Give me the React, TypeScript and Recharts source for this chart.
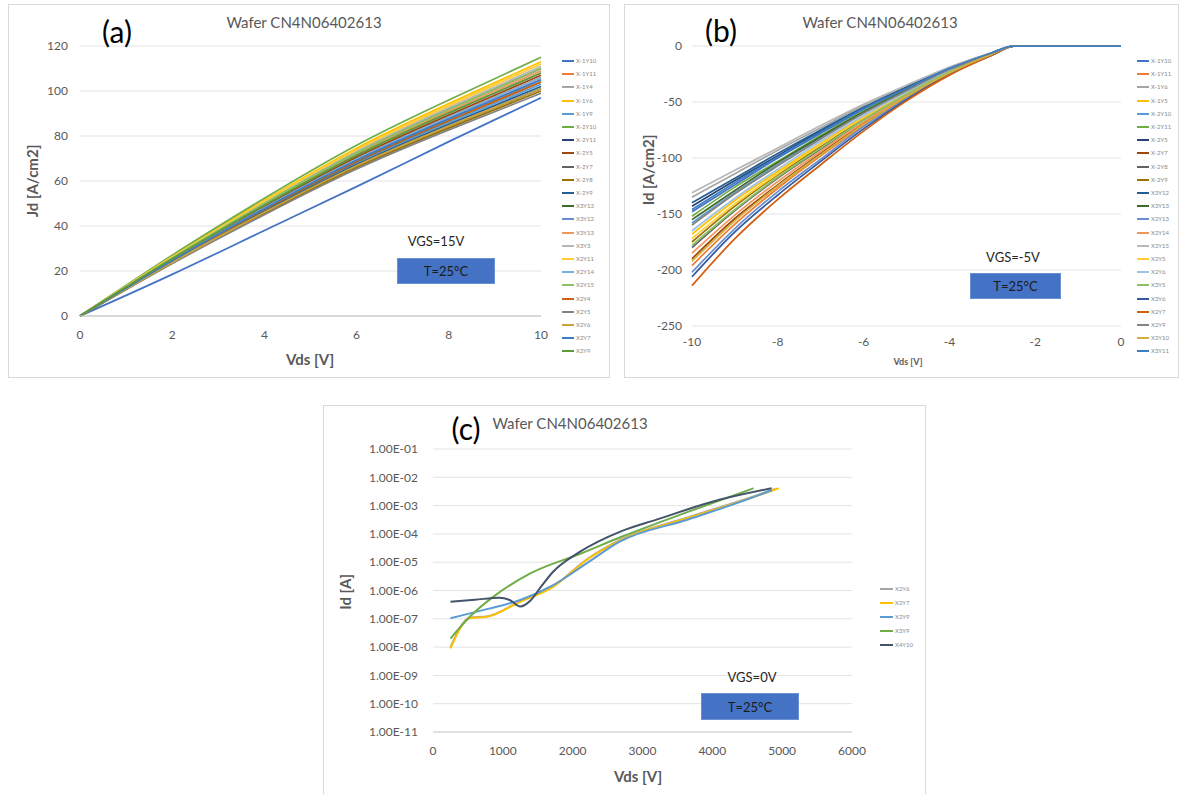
import React from 'react';
import { LineChart, Line, XAxis, YAxis, CartesianGrid } from 'recharts';

const FONT = 'Lato, "Open Sans", "Liberation Sans", sans-serif';
const TICK = { fill: '#595959', fontSize: 12, fontFamily: FONT };
const TITLE = 'Wafer CN4N06402613';

// ---------- Panel (a): Jd vs Vds, VGS = 15 V ----------
const vdsA = [0, 2, 4, 6, 8, 10];
const xTicksA = [0, 2, 4, 6, 8, 10];
const yTicksA = [0, 20, 40, 60, 80, 100, 120];
const namesA = [
  'X-1Y10', 'X-1Y11', 'X-1Y4', 'X-1Y6', 'X-1Y9', 'X-2Y10', 'X-2Y11', 'X-2Y5',
  'X-2Y7', 'X-2Y8', 'X-2Y9', 'X3Y13', 'X3Y12', 'X3Y13', 'X3Y3', 'X2Y11',
  'X2Y14', 'X2Y15', 'X2Y4', 'X2Y5', 'X2Y6', 'X2Y7', 'X2Y9',
];
const colorsA = [
  '#4472C4', '#ED7D31', '#A5A5A5', '#FFC000', '#5B9BD5', '#70AD47', '#264478', '#9E480E',
  '#636363', '#997300', '#255E91', '#43682B', '#698ED0', '#F1975A', '#B7B7B7', '#FFCD33',
  '#7CAFDD', '#8CC168', '#D26012', '#848484', '#CCA43A', '#3C7DC4', '#5E9A3C',
];
const jdA = [
  [0, 18.5, 38.0, 57.5, 77.5, 97.0],
  [0, 24.9, 48.2, 70.0, 88.5, 106.0],
  [0, 25.4, 49.1, 71.3, 90.2, 108.0],
  [0, 26.6, 51.4, 74.6, 94.4, 113.0],
  [0, 24.2, 46.9, 68.0, 86.0, 103.0],
  [0, 27.0, 52.3, 75.9, 96.0, 115.0],
  [0, 23.7, 46.0, 66.7, 84.3, 101.0],
  [0, 25.1, 48.7, 70.6, 89.3, 107.0],
  [0, 25.9, 50.1, 72.6, 91.9, 110.0],
  [0, 23.5, 45.5, 66.0, 83.5, 100.0],
  [0, 24.0, 46.4, 67.3, 85.2, 102.0],
  [0, 24.4, 47.3, 68.6, 86.8, 104.0],
  [0, 24.7, 47.8, 69.3, 87.7, 105.0],
  [0, 25.6, 49.6, 71.9, 91.0, 109.0],
  [0, 26.1, 50.5, 73.3, 92.7, 111.0],
  [0, 26.3, 51.0, 73.9, 93.5, 112.0],
  [0, 24.8, 48.1, 69.8, 88.4, 106.0],
  [0, 25.8, 50.0, 72.5, 91.8, 110.0],
  [0, 24.5, 47.4, 68.7, 86.9, 104.0],
  [0, 23.3, 45.0, 65.3, 82.7, 99.0],
  [0, 23.8, 46.1, 66.8, 84.4, 101.0],
  [0, 24.6, 47.7, 69.2, 87.6, 105.0],
  [0, 25.4, 49.2, 71.4, 90.3, 108.0],
];

// ---------- Panel (b): Id vs Vds, VGS = -5 V ----------
const vdsB = [-10, -9, -8, -7, -6, -5, -4, -3, -2.5, 0];
const xTicksB = [-10, -8, -6, -4, -2, 0];
const yTicksB = [-250, -200, -150, -100, -50, 0];
const namesB = [
  'X-1Y10', 'X-1Y11', 'X-1Y6', 'X-1Y5', 'X-2Y10', 'X-2Y11', 'X-2Y5', 'X-2Y7',
  'X-2Y8', 'X-2Y9', 'X3Y12', 'X3Y13', 'X2Y13', 'X2Y14', 'X2Y15', 'X2Y5',
  'X2Y6', 'X3Y5', 'X3Y6', 'X2Y7', 'X2Y9', 'X2Y10', 'X3Y11',
];
const colorsB = [
  '#4472C4', '#ED7D31', '#A5A5A5', '#FFC000', '#5B9BD5', '#70AD47', '#264478', '#9E480E',
  '#636363', '#997300', '#255E91', '#43682B', '#698ED0', '#F1975A', '#B7B7B7', '#FFCD33',
  '#9DC3E6', '#8CC168', '#335AA1', '#D26012', '#848484', '#D4AE3F', '#3C7DC4',
];
const idB = [
  [-148, -124, -100, -78, -57, -38, -20, -6, 0, 0],
  [-196, -159, -127, -98, -71, -46, -25, -8, 0, 0],
  [-135, -114, -93, -73, -53, -36, -19, -6, 0, 0],
  [-168, -138, -112, -87, -63, -41, -22, -7, 0, 0],
  [-158, -131, -106, -82, -60, -40, -21, -7, 0, 0],
  [-152, -126, -103, -80, -58, -39, -21, -6, 0, 0],
  [-143, -120, -98, -76, -55, -37, -20, -6, 0, 0],
  [-190, -154, -124, -96, -69, -45, -24, -7, 0, 0],
  [-180, -147, -118, -92, -66, -43, -23, -7, 0, 0],
  [-175, -143, -115, -90, -65, -42, -23, -7, 0, 0],
  [-140, -118, -96, -75, -55, -37, -20, -6, 0, 0],
  [-155, -129, -104, -81, -59, -39, -21, -7, 0, 0],
  [-202, -163, -130, -101, -72, -47, -25, -8, 0, 0],
  [-185, -151, -121, -94, -68, -44, -24, -7, 0, 0],
  [-131, -111, -91, -71, -52, -35, -19, -6, 0, 0],
  [-172, -141, -114, -88, -64, -42, -22, -7, 0, 0],
  [-165, -136, -110, -85, -62, -41, -22, -7, 0, 0],
  [-178, -146, -117, -91, -66, -43, -23, -7, 0, 0],
  [-206, -166, -133, -103, -74, -48, -25, -8, 0, 0],
  [-214, -172, -137, -106, -76, -49, -26, -8, 0, 0],
  [-160, -132, -107, -83, -60, -40, -21, -7, 0, 0],
  [-192, -156, -125, -97, -70, -45, -24, -7, 0, 0],
  [-146, -122, -99, -77, -56, -38, -20, -6, 0, 0],
];

// ---------- Panel (c): Id vs Vds, VGS = 0 V (log scale) ----------
const xTicksC = [0, 1000, 2000, 3000, 4000, 5000, 6000];
const yTicksC = [1e-11, 1e-10, 1e-9, 1e-8, 1e-7, 1e-6, 1e-5, 1e-4, 1e-3, 1e-2, 1e-1];

const vdsX2Y6 = [250, 530, 770, 1250, 1720, 2200, 2700, 3630, 4590, 4900];
const idX2Y6 = [1.0e-8, 1.1e-7, 1.2e-7, 4.2e-7, 1.4e-6, 1.25e-5, 6.5e-5, 3.7e-4, 2.1e-3, 3.9e-3];
const vdsX2Y7 = [250, 530, 770, 1250, 1720, 2200, 2700, 3630, 4590, 4950];
const idX2Y7 = [9.0e-9, 1.05e-7, 1.17e-7, 4.0e-7, 1.35e-6, 1.2e-5, 6.2e-5, 3.5e-4, 2.0e-3, 4.1e-3];
const vdsX2Y9 = [250, 770, 1250, 1720, 2200, 2680, 3630, 4590, 4850];
const idX2Y9 = [1.05e-7, 2.2e-7, 4.6e-7, 1.55e-6, 9.1e-6, 5.4e-5, 3.1e-4, 2.0e-3, 3.5e-3];
const vdsX3Y9 = [250, 530, 900, 1400, 2100, 2700, 3600, 4590];
const idX3Y9 = [2.0e-8, 1.2e-7, 7.0e-7, 4.1e-6, 1.95e-5, 7.9e-5, 5.4e-4, 4.1e-3];
const vdsX4Y10 = [250, 600, 950, 1100, 1250, 1400, 1550, 1720, 2100, 2700, 3200, 4100, 4850];
const idX4Y10 = [4.0e-7, 4.7e-7, 5.6e-7, 4.6e-7, 2.7e-7, 4.5e-7, 1.4e-6, 4.6e-6, 2.3e-5, 1.26e-4, 3.2e-4, 1.6e-3, 4.1e-3];

const namesC = ['X2Y6', 'X2Y7', 'X2Y9', 'X3Y9', 'X4Y10'];
const colorsC = ['#A5A5A5', '#FFC000', '#5B9BD5', '#70AD47', '#44546A'];
const seriesC = [
  [vdsX2Y6, idX2Y6],
  [vdsX2Y7, idX2Y7],
  [vdsX2Y9, idX2Y9],
  [vdsX3Y9, idX3Y9],
  [vdsX4Y10, idX4Y10],
];

// ---------- helpers ----------
const toRows = (xs: number[], curves: number[][]) =>
  xs.map((x, i) => {
    const r: Record<string, number> = { x };
    curves.forEach((c, k) => {
      r['s' + k] = c[i];
    });
    return r;
  });

const rowsA = toRows(vdsA, jdA);
const rowsB = toRows(vdsB, idB);
const dataC = seriesC.map(([xs, ys]) => xs.map((x, i) => ({ x, y: ys[i] })));

const fmtSci = (v: number) => {
  const e = Math.round(Math.log10(v));
  return `1.00E${e < 0 ? '-' : '+'}${String(Math.abs(e)).padStart(2, '0')}`;
};

const abs = (left: number, top: number): React.CSSProperties => ({ position: 'absolute', left, top });

function Frame({ left, top, width, height }: { left: number; top: number; width: number; height: number }) {
  return (
    <div
      style={{
        ...abs(left, top),
        width,
        height,
        border: '1px solid #D9D9D9',
        boxSizing: 'border-box',
        background: '#fff',
      }}
    />
  );
}

function Centered({ x, y, size, color, bold, children }: any) {
  return (
    <div
      style={{
        ...abs(x, y),
        transform: 'translate(-50%, -50%)',
        fontFamily: FONT,
        fontSize: size,
        color,
        fontWeight: bold ? 700 : 400,
        whiteSpace: 'nowrap',
        lineHeight: 1,
      }}
    >
      {children}
    </div>
  );
}

function RotLabel({ x, y, size, children }: any) {
  return (
    <div
      style={{
        ...abs(x, y),
        transform: 'translate(-50%, -50%) rotate(-90deg)',
        fontFamily: FONT,
        fontSize: size,
        color: '#595959',
        fontWeight: 700,
        whiteSpace: 'nowrap',
        lineHeight: 1,
      }}
    >
      {children}
    </div>
  );
}

function TempBox({ left, top, width, height }: any) {
  return (
    <div
      style={{
        ...abs(left, top),
        width,
        height,
        background: '#4472C4',
        border: '1px solid #6A8FD3',
        boxSizing: 'border-box',
        display: 'flex',
        alignItems: 'center',
        justifyContent: 'center',
        fontFamily: FONT,
        fontSize: 13,
        color: '#1b1b1b',
      }}
    >
      T=25°C
    </div>
  );
}

function SeriesKey({ left, top, step, names, colors, lineW, size }: any) {
  return (
    <div style={abs(left, top)}>
      {names.map((n: string, i: number) => (
        <div
          key={i}
          style={{
            position: 'absolute',
            left: 0,
            top: i * step,
            display: 'flex',
            alignItems: 'center',
            height: 0,
            whiteSpace: 'nowrap',
          }}
        >
          <div style={{ width: lineW, height: 2, background: colors[i], marginRight: 2 }} />
          <span style={{ fontFamily: FONT, fontSize: size, color: '#8a8a8a', lineHeight: 1 }}>{n}</span>
        </div>
      ))}
    </div>
  );
}

export default function App() {
  return (
    <div style={{ position: 'absolute', left: 0, top: 0, width: 1179, height: 794, background: '#fff', overflow: 'hidden' }}>
      {/* ---------- (a) ---------- */}
      <Frame left={8} top={4} width={602} height={374} />
      <div style={abs(8, 5)}>
        <LineChart width={601} height={373} data={rowsA} margin={{ top: 41, right: 68, bottom: 42, left: 0 }}>
          <CartesianGrid vertical={false} stroke="#E3E3E3" />
          <XAxis
            dataKey="x"
            type="number"
            domain={[0, 10]}
            ticks={xTicksA}
            tickLine={false}
            axisLine={{ stroke: '#BFBFBF' }}
            tick={TICK}
            tickMargin={8}
            height={20}
          />
          <YAxis
            type="number"
            domain={[0, 120]}
            ticks={yTicksA}
            width={72}
            axisLine={false}
            tickLine={false}
            tick={TICK}
            tickMargin={6}
          />
          {jdA.map((_, k) => (
            <Line
              key={k}
              dataKey={'s' + k}
              name={namesA[k]}
              type="natural"
              stroke={colorsA[k]}
              strokeWidth={1.75}
              dot={false}
              isAnimationActive={false}
            />
          ))}
        </LineChart>
      </div>
      <Centered x={117} y={31} size={30} color="#000">(a)</Centered>
      <Centered x={304} y={22} size={15} color="#595959">{TITLE}</Centered>
      <RotLabel x={32} y={181} size={15}>Jd [A/cm2]</RotLabel>
      <Centered x={310} y={359} size={15} color="#595959" bold>Vds [V]</Centered>
      <Centered x={436} y={241} size={13} color="#262626">VGS=15V</Centered>
      <TempBox left={397} top={258} width={98} height={26} />
      <SeriesKey left={562} top={61} step={13.2} names={namesA} colors={colorsA} lineW={12} size={6} />

      {/* ---------- (b) ---------- */}
      <Frame left={624} top={4} width={555} height={374} />
      <div style={abs(624, 5)}>
        <LineChart width={555} height={373} data={rowsB} margin={{ top: 41, right: 58, bottom: 32, left: 0 }}>
          <CartesianGrid vertical={false} stroke="#E3E3E3" />
          <XAxis
            dataKey="x"
            type="number"
            domain={[-10, 0]}
            ticks={xTicksB}
            tickLine={false}
            axisLine={false}
            tick={TICK}
            tickMargin={5}
            height={20}
          />
          <YAxis
            type="number"
            domain={[-250, 0]}
            ticks={yTicksB}
            width={68}
            axisLine={false}
            tickLine={false}
            tick={TICK}
            tickMargin={4}
          />
          {idB.map((_, k) => (
            <Line
              key={k}
              dataKey={'s' + k}
              name={namesB[k]}
              type="monotone"
              stroke={colorsB[k]}
              strokeWidth={1.75}
              dot={false}
              isAnimationActive={false}
            />
          ))}
        </LineChart>
      </div>
      <Centered x={721} y={30} size={30} color="#000">(b)</Centered>
      <Centered x={880} y={22} size={15} color="#595959">{TITLE}</Centered>
      <RotLabel x={648} y={170} size={15}>Id [A/cm2]</RotLabel>
      <Centered x={908} y={361} size={9} color="#595959" bold>Vds [V]</Centered>
      <Centered x={1013} y={257} size={13} color="#262626">VGS=-5V</Centered>
      <TempBox left={970} top={273} width={91} height={26} />
      <SeriesKey left={1137} top={61} step={13.2} names={namesB} colors={colorsB} lineW={12} size={6} />

      {/* ---------- (c) ---------- */}
      <Frame left={323} top={405} width={603} height={390} />
      <div style={abs(323, 405)}>
        <LineChart width={602} height={389} margin={{ top: 44, right: 73, bottom: 42, left: 0 }}>
          <CartesianGrid vertical={false} stroke="#E3E3E3" />
          <XAxis
            dataKey="x"
            type="number"
            domain={[0, 6000]}
            ticks={xTicksC}
            tickLine={false}
            axisLine={{ stroke: '#D0D0D0' }}
            tick={TICK}
            tickMargin={8}
            height={20}
            allowDuplicatedCategory={false}
          />
          <YAxis
            type="number"
            scale="log"
            domain={[1e-11, 1e-1]}
            ticks={yTicksC}
            tickFormatter={fmtSci}
            width={110}
            axisLine={false}
            tickLine={false}
            tick={TICK}
            tickMargin={9}
            allowDataOverflow
          />
          {dataC.map((d, k) => (
            <Line
              key={k}
              data={d}
              dataKey="y"
              name={namesC[k]}
              type="monotone"
              stroke={colorsC[k]}
              strokeWidth={2}
              dot={false}
              isAnimationActive={false}
            />
          ))}
        </LineChart>
      </div>
      <Centered x={466} y={428} size={30} color="#000">(c)</Centered>
      <Centered x={570} y={423} size={15} color="#595959">{TITLE}</Centered>
      <RotLabel x={345} y={592} size={15}>Id [A]</RotLabel>
      <Centered x={638} y={776} size={15} color="#595959" bold>Vds [V]</Centered>
      <Centered x={752} y={677} size={13} color="#262626">VGS=0V</Centered>
      <TempBox left={701} top={693} width={98} height={27} />
      <SeriesKey left={880} top={589} step={14} names={namesC} colors={colorsC} lineW={13} size={6} />
    </div>
  );
}
